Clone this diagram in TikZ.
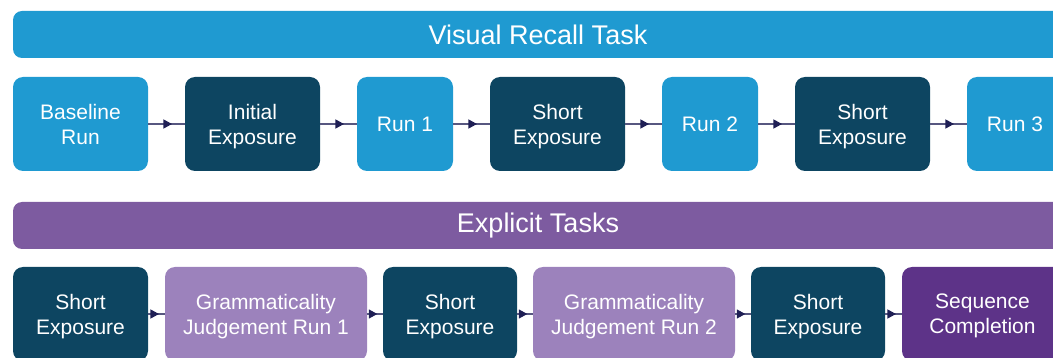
\documentclass[tikz,border=0pt]{standalone}
\usepackage{fontspec}
\setmainfont{Liberation Sans}
\usetikzlibrary{arrows.meta,decorations.markings}
\definecolor{recallblue}{HTML}{1F9AD1}
\definecolor{exposeteal}{HTML}{0D4561}
\definecolor{explicitbar}{HTML}{7D5BA0}
\definecolor{judgelilac}{HTML}{9C82BC}
\definecolor{seqpurple}{HTML}{5D3388}
\definecolor{flownavy}{HTML}{1F1F55}
\tikzset{
  stage/.style={rounded corners=10pt, text=white, align=center, inner sep=0pt,
    minimum height=94pt, font=\fontsize{21}{25}\selectfont},
  pair/.style={stage, text depth=0pt},
  banner/.style={rounded corners=9pt, text=white, inner sep=0pt,
    minimum height=47pt, minimum width=1050pt, font=\fontsize{27}{30}\selectfont},
  flow/.style={draw=flownavy!75, line width=1.1pt, decoration={markings,
    mark=at position 0.65 with {\arrow[flownavy]{Triangle[length=8.5pt,width=9pt]}}},
    postaction={decorate}}
}
\begin{document}
\begin{tikzpicture}[x=1pt, y=-1pt]
  \useasboundingbox (0,0) rectangle (1053,358);
  \clip (0,0) rectangle (1053,358);

	% visual recall task
	\node[banner, fill=recallblue] (recall) at (538,34.5) {Visual Recall Task};
	\node[pair, fill=recallblue, minimum width=135pt] (base) at (80.5,124) {Baseline\\Run};
	\node[pair, fill=exposeteal, minimum width=135pt] (init) at (252.5,124) {Initial\\Exposure};
	\node[stage, fill=recallblue, minimum width=96pt] (run1) at (405,124) {Run 1};
	\node[pair, fill=exposeteal, minimum width=135pt] (shortA) at (557.5,124) {Short\\Exposure};
	\node[stage, fill=recallblue, minimum width=96pt] (run2) at (710,124) {Run 2};
	\node[pair, fill=exposeteal, minimum width=135pt] (shortB) at (862.5,124) {Short\\Exposure};
	\node[stage, fill=recallblue, minimum width=96pt] (run3) at (1015,124) {Run 3};

	% explicit tasks
	\node[banner, fill=explicitbar] (explicit) at (538,225.5) {Explicit Tasks};
	\node[pair, fill=exposeteal, minimum width=135pt] (shortC) at (80.5,314) {Short\\Exposure};
	\node[pair, fill=judgelilac, minimum width=202pt] (gram1) at (266,314) {Grammaticality\\Judgement Run 1};
	\node[pair, fill=exposeteal, minimum width=134pt] (shortD) at (450,314) {Short\\Exposure};
	\node[pair, fill=judgelilac, minimum width=202pt] (gram2) at (634,314) {Grammaticality\\Judgement Run 2};
	\node[pair, fill=exposeteal, minimum width=134pt] (shortE) at (818,314) {Short\\Exposure};
	\node[pair, fill=seqpurple, minimum width=161pt] (seq) at (982.5,314) {Sequence\\Completion};

	\foreach \a/\b in {base/init, init/run1, run1/shortA, shortA/run2, run2/shortB, shortB/run3,
	  shortC/gram1, gram1/shortD, shortD/gram2, gram2/shortE, shortE/seq}
	  \draw[flow] (\a) -- (\b);
\end{tikzpicture}
\end{document}
